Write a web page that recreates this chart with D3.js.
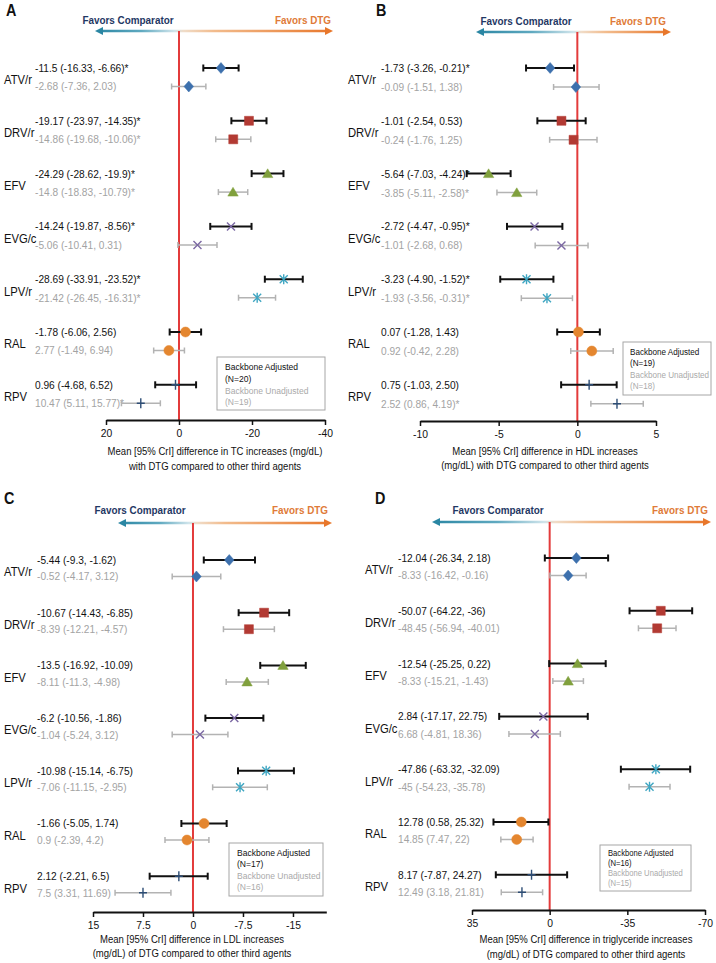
<!DOCTYPE html>
<html>
<head>
<meta charset="utf-8">
<script src="https://cdn.jsdelivr.net/npm/d3@7"></script>
<style>
  body { margin: 0; background: #fff; }
  text { font-family: "Liberation Sans", Arial, sans-serif; }
</style>
</head>
<body>
<svg id="chart" width="716" height="963"></svg>
<script>
const agents = ["ATV/r", "DRV/r", "EFV", "EVG/c", "LPV/r", "RAL", "RPV"];

// A: total cholesterol
const tcAdjMean = [-11.5, -19.17, -24.29, -14.24, -28.69, -1.78, 0.96];
const tcAdjLo = [-16.33, -23.97, -28.62, -19.87, -33.91, -6.06, -4.68];
const tcAdjHi = [-6.66, -14.35, -19.9, -8.56, -23.52, 2.56, 6.52];
const tcAdjText = ["-11.5 (-16.33, -6.66)*", "-19.17 (-23.97, -14.35)*", "-24.29 (-28.62, -19.9)*",
  "-14.24 (-19.87, -8.56)*", "-28.69 (-33.91, -23.52)*", "-1.78 (-6.06, 2.56)", "0.96 (-4.68, 6.52)"];
const tcUnMean = [-2.68, -14.86, -14.8, -5.06, -21.42, 2.77, 10.47];
const tcUnLo = [-7.36, -19.68, -18.83, -10.41, -26.45, -1.49, 5.11];
const tcUnHi = [2.03, -10.06, -10.79, 0.31, -16.31, 6.94, 15.77];
const tcUnText = ["-2.68 (-7.36, 2.03)", "-14.86 (-19.68, -10.06)*", "-14.8 (-18.83, -10.79)*",
  "-5.06 (-10.41, 0.31)", "-21.42 (-26.45, -16.31)*", "2.77 (-1.49, 6.94)", "10.47 (5.11, 15.77)*"];
const tcTicks = [20, 0, -20, -40];

// B: HDL
const hdlAdjMean = [-1.73, -1.01, -5.64, -2.72, -3.23, 0.07, 0.75];
const hdlAdjLo = [-3.26, -2.54, -7.03, -4.47, -4.90, -1.28, -1.03];
const hdlAdjHi = [-0.21, 0.53, -4.24, -0.95, -1.52, 1.43, 2.50];
const hdlAdjText = ["-1.73 (-3.26, -0.21)*", "-1.01 (-2.54, 0.53)", "-5.64 (-7.03, -4.24)*",
  "-2.72 (-4.47, -0.95)*", "-3.23 (-4.90, -1.52)*", "0.07 (-1.28, 1.43)", "0.75 (-1.03, 2.50)"];
const hdlUnMean = [-0.09, -0.24, -3.85, -1.01, -1.93, 0.92, 2.52];
const hdlUnLo = [-1.51, -1.76, -5.11, -2.68, -3.56, -0.42, 0.86];
const hdlUnHi = [1.38, 1.25, -2.58, 0.68, -0.31, 2.28, 4.19];
const hdlUnText = ["-0.09 (-1.51, 1.38)", "-0.24 (-1.76, 1.25)", "-3.85 (-5.11, -2.58)*",
  "-1.01 (-2.68, 0.68)", "-1.93 (-3.56, -0.31)*", "0.92 (-0.42, 2.28)", "2.52 (0.86, 4.19)*"];
const hdlTicks = [-10, -5, 0, 5];

// C: LDL
const ldlAdjMean = [-5.44, -10.67, -13.5, -6.2, -10.98, -1.66, 2.12];
const ldlAdjLo = [-9.3, -14.43, -16.92, -10.56, -15.14, -5.05, -2.21];
const ldlAdjHi = [-1.62, -6.85, -10.09, -1.86, -6.75, 1.74, 6.5];
const ldlAdjText = ["-5.44 (-9.3, -1.62)", "-10.67 (-14.43, -6.85)", "-13.5 (-16.92, -10.09)",
  "-6.2 (-10.56, -1.86)", "-10.98 (-15.14, -6.75)", "-1.66 (-5.05, 1.74)", "2.12 (-2.21, 6.5)"];
const ldlUnMean = [-0.52, -8.39, -8.11, -1.04, -7.06, 0.9, 7.5];
const ldlUnLo = [-4.17, -12.21, -11.3, -5.24, -11.15, -2.39, 3.31];
const ldlUnHi = [3.12, -4.57, -4.98, 3.12, -2.95, 4.2, 11.69];
const ldlUnText = ["-0.52 (-4.17, 3.12)", "-8.39 (-12.21, -4.57)", "-8.11 (-11.3, -4.98)",
  "-1.04 (-5.24, 3.12)", "-7.06 (-11.15, -2.95)", "0.9 (-2.39, 4.2)", "7.5 (3.31, 11.69)"];
const ldlTicks = [15, 7.5, 0, -7.5, -15];

// D: triglycerides
const tgAdjMean = [-12.04, -50.07, -12.54, 2.84, -47.86, 12.78, 8.17];
const tgAdjLo = [-26.34, -64.22, -25.25, -17.17, -63.32, 0.58, -7.87];
const tgAdjHi = [2.18, -36, 0.22, 22.75, -32.09, 25.32, 24.27];
const tgAdjText = ["-12.04 (-26.34, 2.18)", "-50.07 (-64.22, -36)", "-12.54 (-25.25, 0.22)",
  "2.84 (-17.17, 22.75)", "-47.86 (-63.32, -32.09)", "12.78 (0.58, 25.32)", "8.17 (-7.87, 24.27)"];
const tgUnMean = [-8.33, -48.45, -8.33, 6.68, -45, 14.85, 12.49];
const tgUnLo = [-16.42, -56.94, -15.21, -4.81, -54.23, 7.47, 3.18];
const tgUnHi = [-0.16, -40.01, -1.43, 18.36, -35.78, 22, 21.81];
const tgUnText = ["-8.33 (-16.42, -0.16)", "-48.45 (-56.94, -40.01)", "-8.33 (-15.21, -1.43)",
  "6.68 (-4.81, 18.36)", "-45 (-54.23, -35.78)", "14.85 (7.47, 22)", "12.49 (3.18, 21.81)"];
const tgTicks = [35, 0, -35, -70];

const SX = 0.9; // the source text is a bit condensed
const COLORS = ["#3d70ad", "#b23a33", "#80a03d", "#7b68a3", "#3fa6c2", "#e4862f", "#2d4d75"];
const SHAPES = [
  { d: "M0,-5.5L4.8,0L0,5.5L-4.8,0Z", fill: true },
  { d: "M-4.5,-4.5h9v9h-9Z", fill: true },
  { d: "M0,-4.8L5.2,4L-5.2,4Z", fill: true },
  { d: "M-4,-4L4,4M-4,4L4,-4", fill: false },
  { d: "M-4,-4L4,4M-4,4L4,-4M0,-5L0,5", fill: false },
  { d: "M-5,0a5,5 0 1,0 10,0a5,5 0 1,0 -10,0", fill: true },
  { d: "M0,-5V5M-4,0H4", fill: false }
];

const panels = [
  { key: "A", lx: 6, ly: 10, arrowY: 31, arrowX: [95, 333], favC: 128, favD: 303, favY: 20,
    domain: [20, -40], range: [106, 325], ticks: tcTicks, axisY: 420,
    y0: 68, step: 52.8, gOff: 18.5, labX: 4, txtX: 35,
    adj: [tcAdjMean, tcAdjLo, tcAdjHi, tcAdjText], un: [tcUnMean, tcUnLo, tcUnHi, tcUnText],
    legend: { x: 217, y: 357, w: 108, h: 53, size: 9.5, pad: 8, lines: [367, 379, 391, 402], n: ["(N=20)", "(N=19)"] },
    title: ["Mean [95% CrI] difference in TC increases (mg/dL)", "with DTG compared to other third agents"],
    titleX: 215, titleY: [451, 466] },
  { key: "B", lx: 376, ly: 10, arrowY: 32, arrowX: [476, 671], favC: 526, favD: 638, favY: 21,
    domain: [-10, 5], range: [420, 656], ticks: hdlTicks, axisY: 421,
    y0: 68, step: 52.8, gOff: 19, labX: 348, txtX: 381,
    adj: [hdlAdjMean, hdlAdjLo, hdlAdjHi, hdlAdjText], un: [hdlUnMean, hdlUnLo, hdlUnHi, hdlUnText],
    legend: { x: 623, y: 342, w: 88, h: 53, size: 9, pad: 7, lines: [352, 363, 375, 386], n: ["(N=19)", "(N=18)"] },
    title: ["Mean [95% CrI] difference in HDL increases", "(mg/dL) with DTG compared to other third agents"],
    titleX: 545, titleY: [451, 465] },
  { key: "C", lx: 4, ly: 498, arrowY: 523, arrowX: [118, 332], favC: 140, favD: 300, favY: 510,
    domain: [15, -20], range: [93, 326.3], ticks: ldlTicks, axisY: 912,
    y0: 560, step: 52.7, gOff: 16.5, labX: 4, txtX: 37,
    adj: [ldlAdjMean, ldlAdjLo, ldlAdjHi, ldlAdjText], un: [ldlUnMean, ldlUnLo, ldlUnHi, ldlUnText],
    legend: { x: 229, y: 843, w: 94, h: 53, size: 9.5, pad: 8, lines: [853, 864, 876, 887], n: ["(N=17)", "(N=16)"] },
    title: ["Mean [95% CrI] difference in LDL increases", "(mg/dL) of DTG compared to other third agents"],
    titleX: 192, titleY: [939, 953] },
  { key: "D", lx: 375, ly: 498, arrowY: 522, arrowX: [432, 711], favC: 498, favD: 680, favY: 510,
    domain: [35, -70], range: [472, 705], ticks: tgTicks, axisY: 910,
    y0: 558, step: 52.8, gOff: 17.5, labX: 365, txtX: 398,
    adj: [tgAdjMean, tgAdjLo, tgAdjHi, tgAdjText], un: [tgUnMean, tgUnLo, tgUnHi, tgUnText],
    legend: { x: 600, y: 845, w: 91, h: 46, size: 8.5, pad: 8, lines: [853, 863, 873.5, 883.5], n: ["(N=16)", "(N=15)"] },
    title: ["Mean [95% CrI] difference in triglyceride increases", "(mg/dL) of DTG compared to other third agents"],
    titleX: 586, titleY: [939, 954] }
];

const svg = d3.select("#chart");
const defs = svg.append("defs");

const label = (g, x, y, str, o = {}) =>
  g.append("text")
    .attr("transform", `translate(${x},${y}) scale(${SX},1)`)
    .attr("dy", "0.35em")
    .attr("text-anchor", o.anchor || "start")
    .attr("font-size", o.size || 11)
    .attr("font-weight", o.weight || "normal")
    .attr("fill", o.color || "#111")
    .text(str);

const drawArrow = function(g, p, zero) {
  const [x0, x1] = p.arrowX;
  const y = p.arrowY;
  const z = (zero - x0) / (x1 - x0);
  const grad = defs.append("linearGradient")
    .attr("id", "grad" + p.key)
    .attr("gradientUnits", "userSpaceOnUse")
    .attr("x1", x0).attr("x2", x1).attr("y1", y).attr("y2", y);
  [[0, "#2a86a3"], [z * 0.55, "#5fa9c0"], [z - 0.02, "#cfe4eb"], [z + 0.02, "#f0dcc8"],
   [z + 0.15, "#f2bb8c"], [1, "#e8772b"]].forEach(([o, c]) =>
    grad.append("stop").attr("offset", o).attr("stop-color", c));

  g.append("line")
    .attr("x1", x0 + 5).attr("x2", x1 - 5).attr("y1", y).attr("y2", y)
    .attr("stroke", `url(#grad${p.key})`).attr("stroke-width", 2.5);
  g.append("path").attr("d", `M${x0},${y}l8,-4v8Z`).attr("fill", "#2a86a3");
  g.append("path").attr("d", `M${x1},${y}l-8,-4v8Z`).attr("fill", "#e8772b");

  label(g, p.favC, p.favY, "Favors Comparator", { anchor: "middle", size: 11, weight: "bold", color: "#1f3864" });
  label(g, p.favD, p.favY, "Favors DTG", { anchor: "middle", size: 11, weight: "bold", color: "#e07b39" });
};

const drawBar = function(g, x, y, mean, lo, hi, i, grey) {
  const stroke = grey ? "#b3b3b3" : "#111";
  const w = grey ? 1.5 : 2;
  const cap = grey ? 3 : 3.5;
  g.append("line")
    .attr("x1", x(lo)).attr("x2", x(hi)).attr("y1", y).attr("y2", y)
    .attr("stroke", stroke).attr("stroke-width", w);
  [lo, hi].forEach(v =>
    g.append("line")
      .attr("x1", x(v)).attr("x2", x(v)).attr("y1", y - cap).attr("y2", y + cap)
      .attr("stroke", stroke).attr("stroke-width", w));
  const s = SHAPES[i];
  g.append("path")
    .attr("transform", `translate(${x(mean)},${y})`)
    .attr("d", s.d)
    .attr("fill", s.fill ? COLORS[i] : "none")
    .attr("stroke", COLORS[i])
    .attr("stroke-width", s.fill ? 0.5 : 1.4);
};

const drawPanel = function(p) {
  const g = svg.append("g");
  const x = d3.scaleLinear().domain(p.domain).range(p.range);
  const zero = x(0);

  label(g, p.lx, p.ly, p.key, { size: 16, weight: "bold" });
  drawArrow(g, p, zero);

  g.append("line")
    .attr("x1", zero).attr("x2", zero).attr("y1", p.arrowY).attr("y2", p.axisY)
    .attr("stroke", "#e33b3b").attr("stroke-width", 2);

  const [aMean, aLo, aHi, aText] = p.adj;
  const [uMean, uLo, uHi, uText] = p.un;

  agents.forEach((name, i) => {
    const yb = p.y0 + i * p.step;
    const yg = yb + p.gOff;
    label(g, p.labX, yb + 12, name, { size: 12.5 });
    label(g, p.txtX, yb, aText[i], { size: 11.3 });
    label(g, p.txtX, yg, uText[i], { size: 11.3, color: "#a3a3a3" });
    drawBar(g, x, yb, aMean[i], aLo[i], aHi[i], i, false);
    drawBar(g, x, yg, uMean[i], uLo[i], uHi[i], i, true);
  });

  const axis = d3.axisBottom(x)
    .tickValues(p.ticks)
    .tickSize(5)
    .tickSizeOuter(0)
    .tickPadding(4)
    .tickFormat(d => String(d));
  const ag = g.append("g").attr("transform", `translate(0,${p.axisY})`).call(axis);
  ag.select(".domain").attr("stroke", "#111").attr("stroke-width", 2);
  ag.selectAll(".tick line").attr("stroke", "#111").attr("stroke-width", 1.5);
  ag.selectAll(".tick text")
    .attr("font-size", 11.5)
    .attr("fill", "#111")
    .attr("transform", `scale(${SX},1)`);

  const L = p.legend;
  g.append("rect")
    .attr("x", L.x).attr("y", L.y).attr("width", L.w).attr("height", L.h)
    .attr("fill", "#fff").attr("stroke", "#a6a6a6").attr("stroke-width", 1);
  label(g, L.x + L.pad, L.lines[0], "Backbone Adjusted", { size: L.size });
  label(g, L.x + L.pad, L.lines[1], L.n[0], { size: L.size });
  label(g, L.x + L.pad, L.lines[2], "Backbone Unadjusted", { size: L.size, color: "#aaa" });
  label(g, L.x + L.pad, L.lines[3], L.n[1], { size: L.size, color: "#aaa" });

  p.title.forEach((t, k) =>
    label(g, p.titleX, p.titleY[k], t, { anchor: "middle", size: 10.6 }));
};

panels.forEach(drawPanel);
</script>
</body>
</html>
